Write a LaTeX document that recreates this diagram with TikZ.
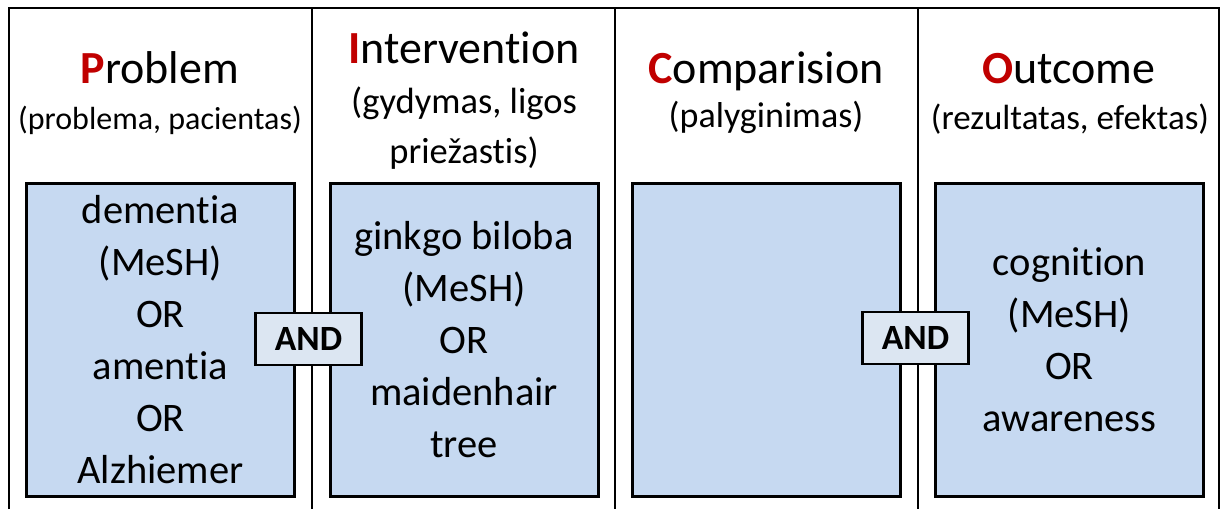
\documentclass[tikz,border=0pt]{standalone}
\usepackage{fontspec}
\setmainfont{Carlito}[Ligatures=NoCommon]
\usetikzlibrary{positioning}

\definecolor{picored}{HTML}{C00000}
\definecolor{termblue}{HTML}{C6D9F1}
\definecolor{andblue}{HTML}{DCE6F2}

\newcommand{\pico}[2]{{\color{picored}\bfseries #1}#2}

\tikzset{
  title/.style={anchor=base, font=\fontsize{46}{52}\selectfont},
  subtitle/.style={anchor=base, align=center, font=\fontsize{#1}{50}\selectfont},
  subtitle/.default=35,
  termbox/.style={draw, line width=3pt, fill=termblue, minimum width=268pt,
    minimum height=313pt, align=center, font=\fontsize{40.5}{52}\selectfont},
  andbox/.style={draw, line width=2.5pt, fill=andblue, minimum width=106pt,
    minimum height=52pt, inner sep=0pt, font=\fontsize{35.5}{40}\selectfont\bfseries}
}

\begin{document}
\begin{tikzpicture}[x=1pt, y=-1pt]
  \useasboundingbox (0,0) rectangle (1223,509);
  % frame and column lines
  \draw[line width=2.5pt] (9,509) -- (9,8) -- (1219,8) -- (1219,509);
  \foreach \xc in {312,615,918}
    \draw[line width=2.5pt] (\xc,8) -- (\xc,509);

  % headers
  \node[title] (ptitle) at (160,83) {\pico{P}{roblem}};
  \node[subtitle=32] (psub) at (160,129) {(problema, pacientas)};
  \node[title] (ititle) at (464,63) {\pico{I}{ntervention}};
  \node[subtitle=36.5] (isub) at (464,163) {(gydymas, ligos\\priežastis)};
  \node[title] (ctitle) at (766,83) {\pico{C}{omparision}};
  \node[subtitle=36] (csub) at (766,127) {(palyginimas)};
  \node[title] (otitle) at (1069,83) {\pico{O}{utcome}};
  \node[subtitle=35] (osub) at (1070,129) {(rezultatas, efektas)};

  % search terms
  \node[termbox] (prob) at (160.5,339.5)
    {dementia\\(MeSH)\\OR\\amentia\\OR\\Alzhiemer};
  \node[termbox] (inter) at (464,339.5)
    {ginkgo biloba\\(MeSH)\\OR\\maidenhair\\tree};
  \node[termbox] (comp) at (766.5,339.5) {};
  \node[termbox] (out) at (1069.5,339.5)
    {cognition\\(MeSH)\\OR\\awareness};

  \node[andbox] (and1) at (308.5,339) {AND};
  \node[andbox] (and2) at (915.5,338) {AND};
\end{tikzpicture}
\end{document}
